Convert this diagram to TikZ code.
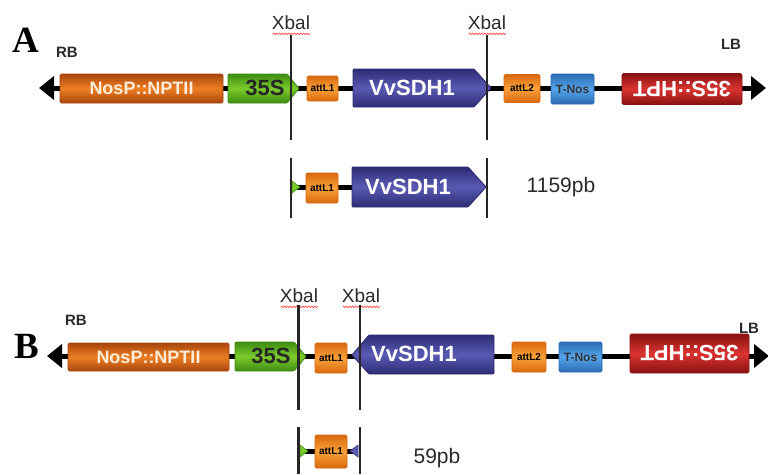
\documentclass[tikz,border=0pt]{standalone}
\usepackage{fontspec}
\setmainfont{Liberation Sans}
\newfontfamily\panelfont{Liberation Serif}
\usetikzlibrary{arrows.meta,decorations.pathmorphing,calc}

% gene element colours: edge / centre of the shading
\definecolor{orgE}{HTML}{A9460E}
\definecolor{orgM}{HTML}{EC7E22}
\definecolor{attE}{HTML}{D9680F}
\definecolor{attM}{HTML}{F9A23A}
\definecolor{grnE}{HTML}{3E8C12}
\definecolor{grnM}{HTML}{7CCB2C}
\definecolor{purE}{HTML}{2C2C74}
\definecolor{purM}{HTML}{5A5AB4}
\definecolor{bluE}{HTML}{2A6BB4}
\definecolor{bluM}{HTML}{55A6EC}
\definecolor{redE}{HTML}{8A1212}
\definecolor{redM}{HTML}{DA3431}
\definecolor{txt}{HTML}{2A2A2A}

\tikzset{
  gene/.style n args={3}{draw=#1, top color=#2, bottom color=#2, middle color=#3,
    line width=0.9pt, inner sep=0pt, rounded corners=1.5pt},
  backbone/.style={line width=5pt, draw=black,
    {Triangle[length=15pt,width=23pt]}-{Triangle[length=15pt,width=23pt]}},
  link/.style={line width=5pt, draw=black},
  cutline/.style={line width=2.4pt, draw=black!85},
  siteLbl/.style={font=\fontsize{19}{19}\selectfont, text=txt, inner sep=0pt},
  borderLbl/.style={font=\bfseries\fontsize{15}{15}\selectfont, text=txt, inner sep=0pt},
  panelLbl/.style={font=\panelfont\bfseries\fontsize{37}{37}\selectfont, inner sep=0pt},
  nosLbl/.style={font=\bfseries\fontsize{18}{18}\selectfont, text=orange!15, inner sep=0pt},
  proLbl/.style={font=\bfseries\fontsize{22}{22}\selectfont, text=black!85, inner sep=0pt},
  vvLbl/.style={font=\bfseries\fontsize{22}{22}\selectfont, text=white, inner sep=0pt},
  attLbl/.style={font=\bfseries\fontsize{10}{10}\selectfont, text=black, inner sep=0pt},
  tnosLbl/.style={font=\bfseries\fontsize{12}{12}\selectfont, text=black!80, inner sep=0pt},
  hptLbl/.style={font=\bfseries\fontsize{22}{22}\selectfont, text=white, inner sep=0pt, rotate=180},
  sizeLbl/.style={font=\fontsize{21}{21}\selectfont, text=txt, inner sep=0pt},
  squig/.style={draw=red!80, line width=0.6pt,
    decorate, decoration={snake, amplitude=0.8pt, segment length=3pt}},
}

\begin{document}
\begin{tikzpicture}[x=1pt,y=-1pt]
\useasboundingbox (0,0) rectangle (768,474);
\fill[white] (0,0) rectangle (768,474);

% ================= construct A =================
\node[panelLbl] (pA) at (26,40) {A};
\node[borderLbl] (rbA) at (67,52) {RB};
\node[borderLbl] (lbA) at (731,44) {LB};

\coordinate (tipLA) at (39,88);
\coordinate (tipRA) at (766,88);
\draw[backbone] (tipLA) -- (tipRA);

\node[gene={orgE}{orgE}{orgM}, minimum width=163pt, minimum height=29pt] (nosA) at (141.5,88.5) {};
\node[nosLbl] at (nosA) {NosP::NPTII};

\path[gene={grnE}{grnE}{grnM}, rounded corners=1pt]
  (228,74) -- (287,74) -- (299,88.5) -- (287,103) -- (228,103) -- cycle;
\node[proLbl] (p35A) at (265,88) {35S};

\node[gene={attE}{attE}{attM}, minimum width=31pt, minimum height=25pt] (att1A) at (322.5,88.5) {};
\node[attLbl] at (att1A) {attL1};

\path[gene={purE}{purE}{purM}, rounded corners=1pt]
  (353,69) -- (474,69) -- (491,88) -- (474,107) -- (353,107) -- cycle;
\node[vvLbl] (vvA) at (412,88) {VvSDH1};

\node[gene={attE}{attE}{attM}, minimum width=36pt, minimum height=28pt] (att2A) at (522,88.5) {};
\node[attLbl] at (att2A) {attL2};

\node[gene={bluE}{bluE}{bluM}, minimum width=43pt, minimum height=30pt] (tnosA) at (572.5,89) {};
\node[tnosLbl] at (tnosA) {T-Nos};

\node[gene={redE}{redE}{redM}, minimum width=120pt, minimum height=31pt] (hptA) at (682,89) {};
\node[hptLbl] at (hptA) {35S::HPT};

% Xbal sites
\node[siteLbl] (xA1) at (291,23) {Xbal};
\node[siteLbl] (xA2) at (487,23) {Xbal};
\draw[squig] ($(xA1.base west)+(1,4)$) -- ($(xA1.base east)+(0,4)$);
\draw[squig] ($(xA2.base west)+(1,4)$) -- ($(xA2.base east)+(0,4)$);
\coordinate (cA1t) at (291,35);  \coordinate (cA1b) at (291,140);
\coordinate (cA2t) at (487,35);  \coordinate (cA2b) at (487,140);
\draw[cutline] (cA1t) -- (cA1b);
\draw[cutline] (cA2t) -- (cA2b);

% excised fragment A
\coordinate (fA1t) at (291,158); \coordinate (fA1b) at (291,218);
\coordinate (fA2t) at (487,158); \coordinate (fA2b) at (487,218);
\coordinate (fAl) at (292,187);  \coordinate (fAr) at (355,187);
\draw[link] (fAl) -- (fAr);
\path[fill=grnM, draw=grnE, line width=0.5pt] (292,181) -- (300,187) -- (292,193) -- cycle;
\node[gene={attE}{attE}{attM}, minimum width=32pt, minimum height=30pt] (att1fA) at (322,188) {};
\node[attLbl] at (att1fA) {attL1};
\path[gene={purE}{purE}{purM}, rounded corners=1pt]
  (352,167) -- (468,167) -- (486,187) -- (468,207) -- (352,207) -- cycle;
\node[vvLbl] (vvfA) at (408,187) {VvSDH1};
\draw[cutline] (fA1t) -- (fA1b);
\draw[cutline] (fA2t) -- (fA2b);
\node[sizeLbl] (szA) at (561,187) {1159pb};

% ================= construct B =================
\node[panelLbl] (pB) at (27,346) {B};
\node[borderLbl] (rbB) at (76,320) {RB};
\node[borderLbl] (lbB) at (749,328) {LB};

\coordinate (tipLB) at (47,356);
\coordinate (tipRB) at (769,356);
\draw[backbone] (tipLB) -- (tipRB);

\node[gene={orgE}{orgE}{orgM}, minimum width=161pt, minimum height=28pt] (nosB) at (148.5,357) {};
\node[nosLbl] at (nosB) {NosP::NPTII};

\path[gene={grnE}{grnE}{grnM}, rounded corners=1pt]
  (235,342) -- (294,342) -- (306,356.5) -- (294,371) -- (235,371) -- cycle;
\node[proLbl] (p35B) at (271,356) {35S};

\node[gene={attE}{attE}{attM}, minimum width=32pt, minimum height=30pt] (att1B) at (331,358) {};
\node[attLbl] at (att1B) {attL1};

\path[gene={purE}{purE}{purM}, rounded corners=1pt]
  (352,355) -- (369,335) -- (494,335) -- (494,374) -- (369,374) -- cycle;
\node[vvLbl] (vvB) at (414,354) {VvSDH1};

\node[gene={attE}{attE}{attM}, minimum width=34pt, minimum height=30pt] (att2B) at (529,357) {};
\node[attLbl] at (att2B) {attL2};

\node[gene={bluE}{bluE}{bluM}, minimum width=43pt, minimum height=30pt] (tnosB) at (580.5,357) {};
\node[tnosLbl] at (tnosB) {T-Nos};

\node[gene={redE}{redE}{redM}, minimum width=119pt, minimum height=39pt] (hptB) at (689.5,353.5) {};
\node[hptLbl] at (hptB) {35S::HPT};

% Xbal sites
\node[siteLbl] (xB1) at (299,296) {Xbal};
\node[siteLbl] (xB2) at (361,296) {Xbal};
\draw[squig] ($(xB1.base west)+(1,4)$) -- ($(xB1.base east)+(0,4)$);
\draw[squig] ($(xB2.base west)+(1,4)$) -- ($(xB2.base east)+(0,4)$);
\coordinate (cB1t) at (298.5,305); \coordinate (cB1b) at (298.5,410);
\coordinate (cB2t) at (360,305);   \coordinate (cB2b) at (360,410);
\draw[cutline] (cB1t) -- (cB1b);
\draw[cutline] (cB2t) -- (cB2b);

% excised fragment B
\coordinate (fB1t) at (298.5,427); \coordinate (fB1b) at (298.5,474);
\coordinate (fB2t) at (360,427);   \coordinate (fB2b) at (360,474);
\coordinate (fBl) at (300,451);    \coordinate (fBr) at (358,451);
\draw[link] (fBl) -- (fBr);
\path[fill=grnM, draw=grnE, line width=0.5pt] (300,445) -- (308,451) -- (300,457) -- cycle;
\path[fill=purM, draw=purE, line width=0.5pt] (358,445) -- (350,451) -- (358,457) -- cycle;
\node[gene={attE}{attE}{attM}, minimum width=32pt, minimum height=33pt] (att1fB) at (331,451.5) {};
\node[attLbl] at (att1fB) {attL1};
\draw[cutline] (fB1t) -- (fB1b);
\draw[cutline] (fB2t) -- (fB2b);
\node[sizeLbl] (szB) at (437,458) {59pb};
\end{tikzpicture}
\end{document}
